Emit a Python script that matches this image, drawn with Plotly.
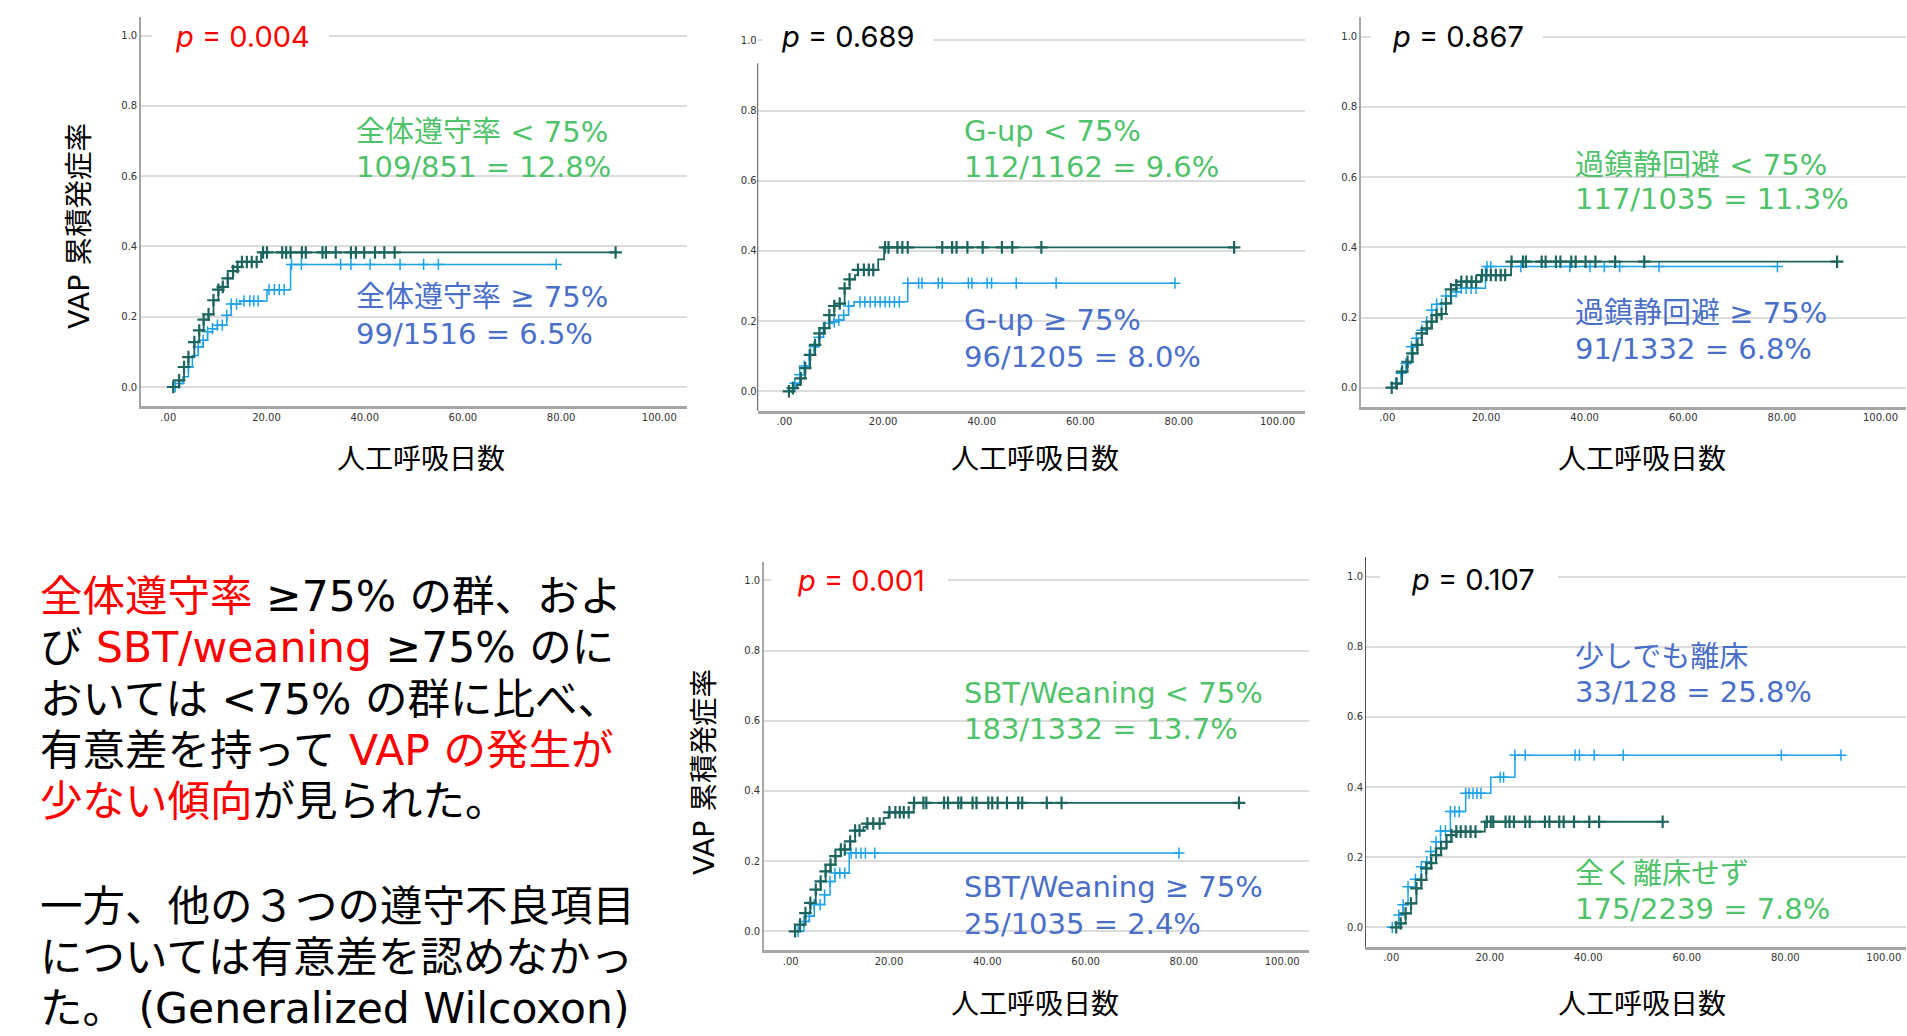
import plotly.graph_objects as go

W, H = 1907, 1036

# ---------------- data ----------------
x_ticks = [0, 20, 40, 60, 80, 100]
x_ticklabels = [".00", "20.00", "40.00", "60.00", "80.00", "100.00"]
y_ticks = [0.0, 0.2, 0.4, 0.6, 0.8, 1.0]
y_ticklabels = ["0.0", "0.2", "0.4", "0.6", "0.8", "1.0"]

x_title = "人工呼吸日数"
y_title = "VAP 累積発症率"

p_values = ["0.004", "0.689", "0.867", "0.001", "0.107"]
p_colors = ["#FF0000", "#000000", "#000000", "#FF0000", "#000000"]

teal_names = ["全体遵守率 &lt; 75%", "G-up &lt; 75%", "過鎮静回避 &lt; 75%", "SBT/Weaning &lt; 75%", "全く離床せず"]
teal_counts = ["109/851 = 12.8%", "112/1162 = 9.6%", "117/1035 = 11.3%", "183/1332 = 13.7%", "175/2239 = 7.8%"]
blue_names = ["全体遵守率 ≥ 75%", "G-up ≥ 75%", "過鎮静回避 ≥ 75%", "SBT/Weaning ≥ 75%", "少しでも離床"]
blue_counts = ["99/1516 = 6.5%", "96/1205 = 8.0%", "91/1332 = 6.8%", "25/1035 = 2.4%", "33/128 = 25.8%"]

# Panel 1: 全体遵守率
p1_teal_t = [1.0, 2.2, 3.2, 4.1, 5.3, 6.3, 7.2, 8.2, 9.2, 10.2, 11.1, 12.1, 13.2, 14.1, 15.0, 18.9]
p1_teal_c = [0.0, 0.019, 0.057, 0.085, 0.128, 0.161, 0.192, 0.207, 0.247, 0.277, 0.285, 0.309, 0.330, 0.342, 0.356, 0.383]
p1_teal_cens = [1.0, 2.2, 3.2, 4.1, 5.3, 6.3, 7.2, 8.2, 9.2, 10.2, 11.1, 12.1, 13.2, 14.1, 15.0, 16.0, 17.0, 18.0,
                19.3, 20.1, 23.2, 24.0, 24.9, 27.2, 28.0, 31.4, 32.1, 34.1, 37.2, 38.2, 39.9, 42.1, 44.0, 46.1, 91.1]
p1_blue_t = [1.4, 2.2, 3.0, 4.1, 4.9, 6.1, 7.1, 8.0, 9.0, 10.0, 11.9, 12.8, 14.6, 20.1, 24.9]
p1_blue_c = [0.0, 0.010, 0.029, 0.057, 0.090, 0.114, 0.133, 0.157, 0.166, 0.176, 0.204, 0.236, 0.245, 0.277, 0.349]
p1_blue_cens = [1.4, 2.2, 4.1, 6.1, 7.1, 8.0, 9.0, 10.0, 11.0, 11.9, 12.8, 13.9, 15.4, 16.6, 17.4, 18.3,
                20.5, 21.6, 22.6, 23.6, 25.1, 27.1, 35.1, 37.2, 41.1, 47.2, 52.0, 55.0, 79.0]

# Panel 2: G-up
p2_teal_t = [0.9, 1.7, 2.5, 3.3, 4.2, 5.2, 6.2, 7.1, 8.1, 9.1, 10.1, 11.2, 12.2, 13.2, 14.3, 14.9, 19.0, 20.2]
p2_teal_c = [0.0, 0.009, 0.018, 0.037, 0.066, 0.104, 0.132, 0.165, 0.180, 0.217, 0.243, 0.250, 0.293, 0.319, 0.331, 0.346, 0.376, 0.410]
p2_teal_cens = [0.9, 1.7, 3.3, 4.2, 5.2, 6.2, 7.1, 8.1, 9.1, 10.1, 11.2, 12.2, 13.2, 14.9, 16.1, 17.1, 18.0,
                20.4, 21.1, 22.9, 23.9, 25.0, 32.0, 34.0, 34.9, 37.1, 40.2, 44.1, 46.2, 52.1, 91.2]
p2_blue_t = [0.9, 2.1, 3.1, 4.0, 5.0, 6.0, 7.0, 7.9, 9.1, 10.1, 11.0, 12.0, 13.0, 14.1, 25.0]
p2_blue_c = [0.0, 0.023, 0.047, 0.072, 0.104, 0.127, 0.154, 0.180, 0.194, 0.198, 0.203, 0.217, 0.243, 0.255, 0.308]
p2_blue_cens = [2.1, 3.1, 4.0, 5.0, 6.0, 7.0, 7.9, 9.1, 10.1, 11.0, 12.0, 13.0, 15.3, 16.3, 17.4, 18.4, 19.4,
                20.4, 21.3, 22.3, 23.3, 25.0, 27.2, 27.9, 31.2, 32.0, 37.3, 38.0, 41.1, 42.0, 47.0, 55.1, 79.2]

# Panel 3: 過鎮静回避
p3_teal_t = [0.9, 1.9, 3.0, 4.1, 5.1, 6.1, 7.0, 8.0, 9.0, 10.0, 11.0, 11.9, 12.9, 14.0, 15.0, 19.0, 25.1]
p3_teal_c = [0.0, 0.012, 0.046, 0.074, 0.098, 0.122, 0.155, 0.169, 0.188, 0.207, 0.210, 0.240, 0.280, 0.292, 0.302, 0.321, 0.359]
p3_teal_cens = [0.9, 1.9, 3.0, 4.1, 5.1, 6.1, 7.0, 8.0, 9.0, 10.0, 11.0, 11.9, 12.9, 14.0, 15.0, 16.1, 17.1, 18.0,
                19.2, 20.1, 21.0, 22.0, 23.0, 23.9, 25.2, 27.5, 28.1, 31.3, 32.1, 34.2, 35.1, 37.3, 38.2, 40.2,
                42.2, 46.2, 52.1, 91.2]
p3_blue_t = [1.0, 1.7, 2.8, 3.8, 4.9, 5.9, 7.0, 8.0, 9.0, 10.0, 11.9, 14.0, 15.0, 19.9]
p3_blue_c = [0.0, 0.012, 0.041, 0.069, 0.117, 0.141, 0.164, 0.188, 0.221, 0.238, 0.261, 0.273, 0.283, 0.345]
p3_blue_cens = [1.7, 2.8, 3.8, 4.9, 5.9, 7.0, 8.0, 9.0, 10.0, 11.0, 11.9, 13.0, 14.0, 15.0, 16.0, 17.0, 18.0,
                20.2, 21.0, 27.1, 37.0, 41.1, 44.0, 47.1, 55.1, 79.1]

# Panel 4: SBT/Weaning
p4_teal_t = [0.9, 1.9, 3.0, 4.0, 5.1, 6.1, 7.1, 8.1, 9.1, 10.2, 12.1, 13.1, 14.8, 15.4, 18.9, 19.9, 25.0]
p4_teal_c = [0.0, 0.019, 0.052, 0.081, 0.119, 0.142, 0.171, 0.190, 0.214, 0.233, 0.256, 0.287, 0.297, 0.307, 0.323, 0.339, 0.366]
p4_teal_cens = [0.9, 1.9, 3.0, 4.0, 5.1, 6.1, 7.1, 8.1, 9.1, 10.2, 11.0, 12.1, 13.1, 14.0, 15.6, 16.8, 18.1,
                20.1, 21.3, 22.2, 23.0, 24.0, 25.1, 27.0, 27.6, 31.2, 32.0, 34.1, 34.7, 37.0, 37.8, 40.2, 41.0,
                42.1, 44.0, 46.3, 47.1, 52.1, 55.1, 91.2]
p4_blue_t = [1.5, 2.7, 3.8, 4.8, 6.9, 8.0, 9.0, 11.9]
p4_blue_c = [0.0, 0.028, 0.043, 0.076, 0.104, 0.142, 0.166, 0.223]
p4_blue_cens = [1.5, 2.7, 3.8, 4.8, 6.0, 6.9, 8.0, 9.0, 10.0, 11.0, 12.3, 13.3, 14.3, 15.2, 17.1, 79.0]

# Panel 5: 離床
p5_teal_t = [1.0, 1.9, 2.9, 4.0, 5.1, 6.1, 7.1, 8.1, 9.1, 10.1, 11.2, 12.2, 13.2, 19.0]
p5_teal_c = [0.0, 0.011, 0.040, 0.068, 0.111, 0.135, 0.168, 0.183, 0.206, 0.225, 0.244, 0.263, 0.273, 0.301]
p5_teal_cens = [1.0, 1.9, 2.9, 4.0, 5.1, 6.1, 7.1, 8.1, 9.1, 10.1, 11.2, 12.2, 13.2, 14.1, 15.1, 16.1, 17.1,
                19.4, 20.2, 20.7, 23.2, 24.0, 24.9, 27.2, 28.1, 31.2, 32.1, 34.1, 35.0, 37.1, 40.2, 42.2, 55.1]
p5_blue_t = [0.2, 1.5, 2.4, 3.4, 4.9, 6.1, 7.2, 8.0, 9.1, 10.0, 12.0, 15.1, 20.2, 25.1]
p5_blue_c = [0.0, 0.035, 0.064, 0.116, 0.137, 0.173, 0.187, 0.216, 0.244, 0.275, 0.330, 0.382, 0.428, 0.491]
p5_blue_cens = [0.2, 1.5, 2.4, 3.4, 4.9, 6.1, 7.2, 8.0, 9.1, 10.0, 11.0, 12.0, 12.9, 13.8, 15.1, 15.8, 16.6,
                17.4, 18.2, 22.1, 22.8, 25.1, 27.2, 37.3, 38.2, 41.2, 47.1, 79.2, 91.3]

summary_lines = [
    "<span style='color:#FF0000'>全体遵守率</span> ≥75% の群、およ",
    "び <span style='color:#FF0000'>SBT/weaning</span> ≥75% のに",
    "おいては &lt;75% の群に比べ、",
    "有意差を持って <span style='color:#FF0000'>VAP の発生が</span>",
    "<span style='color:#FF0000'>少ない傾向</span>が見られた。",
    "一方、他の３つの遵守不良項目",
    "については有意差を認めなかっ",
    "た。 (Generalized Wilcoxon)",
]

# ---------------- styling / geometry (pixels) ----------------
TEAL = "#1C655E"
BLUE = "#1DA1E8"
GREEN_TXT = "#4FC26A"
BLUE_TXT = "#4A6FC8"
JP = "Noto Sans CJK JP"
MIX = "DejaVu Sans, Noto Sans CJK JP"
PFONT = "Inter, Noto Sans CJK JP"
TICKF = dict(family="DejaVu Sans", size=10, color="#333333")

panels = [
    dict(teal=(p1_teal_t, p1_teal_c, p1_teal_cens), blue=(p1_blue_t, p1_blue_c, p1_blue_cens),
         x0=168.3, x100=659.3, y0=387.0, y1=35.7, L=141, R=686.7, T=16.7, B=406,
         gap=(152, 329), pxy=(243, 36), tealtxt=(353.5, 131.5, 166.7), bluetxt=(353.5, 296.7, 334),
         xt=(421, 457), yline=None, axc="#A6A6A6"),
    dict(teal=(p2_teal_t, p2_teal_c, p2_teal_cens), blue=(p2_blue_t, p2_blue_c, p2_blue_cens),
         x0=784.5, x100=1277.5, y0=391.3, y1=40.3, L=757.7, R=1304.6, T=21.5, B=410.7,
         gap=(762, 933), pxy=(847.5, 37), tealtxt=(961.5, 131, 166.6), bluetxt=(961.5, 320, 356.5),
         xt=(1035, 457), yline=63.3, axc="#555555"),
    dict(teal=(p3_teal_t, p3_teal_c, p3_teal_cens), blue=(p3_blue_t, p3_blue_c, p3_blue_cens),
         x0=1387.3, x100=1880.5, y0=387.7, y1=36.7, L=1361, R=1906, T=17.3, B=406.7,
         gap=(1371, 1543), pxy=(1458, 36), tealtxt=(1573, 164.5, 198.5), bluetxt=(1573, 313, 349),
         xt=(1642, 457), yline=None, axc="#A6A6A6"),
    dict(teal=(p4_teal_t, p4_teal_c, p4_teal_cens), blue=(p4_blue_t, p4_blue_c, p4_blue_cens),
         x0=790.7, x100=1282.2, y0=931.3, y1=580.3, L=764, R=1309, T=561.7, B=950.3,
         gap=(771, 948), pxy=(861, 580.5), tealtxt=(961.5, 693.3, 729.4), bluetxt=(961.5, 886.6, 923.5),
         xt=(1035, 1002), yline=None, axc="#A6A6A6"),
    dict(teal=(p5_teal_t, p5_teal_c, p5_teal_cens), blue=(p5_blue_t, p5_blue_c, p5_blue_cens),
         x0=1391.3, x100=1883.8, y0=927.3, y1=576.7, L=1366, R=1906, T=557.3, B=946.7,
         gap=(1380, 1558), pxy=(1473, 579), tealtxt=(1573, 873.7, 908.7), bluetxt=(1573, 656.7, 692),
         xt=(1642, 1002), yline=None, axc="#555555"),
]


def px(x):
    return x / W


def py(y):
    return 1 - y / H


def step_at(times, cum, t):
    val = 0.0
    for ti, ci in zip(times, cum):
        if ti <= t + 1e-9:
            val = ci
    return val


fig = go.Figure()
annotations = []
shapes = []
layout_axes = {}

for i, p in enumerate(panels):
    n = i + 1
    xa = "x" if n == 1 else f"x{n}"
    ya = "y" if n == 1 else f"y{n}"
    xkey = "xaxis" if n == 1 else f"xaxis{n}"
    ykey = "yaxis" if n == 1 else f"yaxis{n}"

    ppu_x = (p["x100"] - p["x0"]) / 100.0
    ppu_y = (p["y0"] - p["y1"])
    xr = [(p["L"] - p["x0"]) / ppu_x, (p["R"] - p["x0"]) / ppu_x]
    yr = [(p["y0"] - p["B"]) / ppu_y, (p["y0"] - p["T"]) / ppu_y]

    for key, color, msize, lw, mlw in (("blue", BLUE, 8, 1.5, 1.5), ("teal", TEAL, 9, 1.8, 2.2)):
        t, c, cens = p[key]
        end = max(cens)
        fig.add_trace(go.Scatter(
            x=list(t) + [end], y=list(c) + [c[-1]], mode="lines",
            line=dict(color=color, width=lw, shape="hv"),
            xaxis=xa, yaxis=ya, showlegend=False, hoverinfo="skip"))
        fig.add_trace(go.Scatter(
            x=cens, y=[step_at(t, c, v) for v in cens], mode="markers",
            marker=dict(symbol="cross-thin", size=msize, line=dict(color=color, width=mlw)),
            xaxis=xa, yaxis=ya, showlegend=False, hoverinfo="skip"))

    layout_axes[xkey] = dict(
        domain=[px(p["L"]), px(p["R"])], range=xr, anchor=ya,
        showgrid=False, zeroline=False, showline=True, linecolor="#A6A6A6", linewidth=2.5,
        tickvals=x_ticks, ticktext=x_ticklabels, ticks="",
        tickfont=TICKF, fixedrange=True)
    layout_axes[ykey] = dict(
        domain=[py(p["B"]), py(p["T"])], range=yr, anchor=xa,
        showgrid=True, gridcolor="#DCDCDC", gridwidth=1.6, zeroline=False,
        showline=p["yline"] is None, linecolor=p["axc"],
        linewidth=1.6 if p["axc"] == "#A6A6A6" else 1,
        tickvals=y_ticks, ticktext=y_ticklabels, ticks="",
        tickfont=TICKF, fixedrange=True)

    if p["yline"] is not None:
        shapes.append(dict(type="line", xref="paper", yref="paper",
                           x0=px(p["L"]), x1=px(p["L"]), y0=py(p["B"]), y1=py(p["yline"]),
                           line=dict(color=p["axc"], width=1), layer="above"))

    # white gap behind the p-value (covers the 1.0 gridline)
    gy = p["y1"]
    shapes.append(dict(type="rect", xref="paper", yref="paper",
                       x0=px(p["gap"][0]), x1=px(p["gap"][1]), y0=py(gy + 3), y1=py(gy - 3),
                       fillcolor="white", line=dict(width=0), layer="above"))

    annotations.append(dict(
        x=px(p["pxy"][0]), y=py(p["pxy"][1]), xref="paper", yref="paper",
        text=f"<i>p</i> = {p_values[i]}", showarrow=False, xanchor="center", yanchor="middle",
        font=dict(family=PFONT, size=29, color=p_colors[i])))

    tx, ty1, ty2 = p["tealtxt"]
    bx, by1, by2 = p["bluetxt"]
    for (xx, yy, txt, col) in ((tx, ty1, teal_names[i], GREEN_TXT), (tx, ty2, teal_counts[i], GREEN_TXT),
                               (bx, by1, blue_names[i], BLUE_TXT), (bx, by2, blue_counts[i], BLUE_TXT)):
        annotations.append(dict(x=px(xx), y=py(yy), xref="paper", yref="paper", text=txt,
                                showarrow=False, xanchor="left", yanchor="middle",
                                font=dict(family=MIX, size=29, color=col)))

    annotations.append(dict(x=px(p["xt"][0]), y=py(p["xt"][1]), xref="paper", yref="paper",
                            text=x_title, showarrow=False, xanchor="center", yanchor="middle",
                            font=dict(family=JP, size=28, color="#000000")))

# y-axis titles (panels 1 and 4)
for (yx, yy) in ((79, 226), (704, 772)):
    annotations.append(dict(x=px(yx), y=py(yy), xref="paper", yref="paper", text=y_title,
                            showarrow=False, xanchor="center", yanchor="middle", textangle=-90,
                            font=dict(family=MIX, size=28.5, color="#000000")))

# summary text
summary_y = [596, 647, 699, 750, 801, 906, 957, 1008]
for line, yy in zip(summary_lines, summary_y):
    annotations.append(dict(x=px(38), y=py(yy), xref="paper", yref="paper", text=line,
                            showarrow=False, xanchor="left", yanchor="middle",
                            font=dict(family=MIX, size=42.5, color="#000000")))

fig.update_layout(
    width=W, height=H, margin=dict(l=0, r=0, t=0, b=0),
    paper_bgcolor="white", plot_bgcolor="white",
    annotations=annotations, shapes=shapes, showlegend=False,
    **layout_axes)

fig.write_html("out.html", config={"displayModeBar": False},
               post_script="document.body.style.margin='0';document.body.style.overflow='hidden';")
